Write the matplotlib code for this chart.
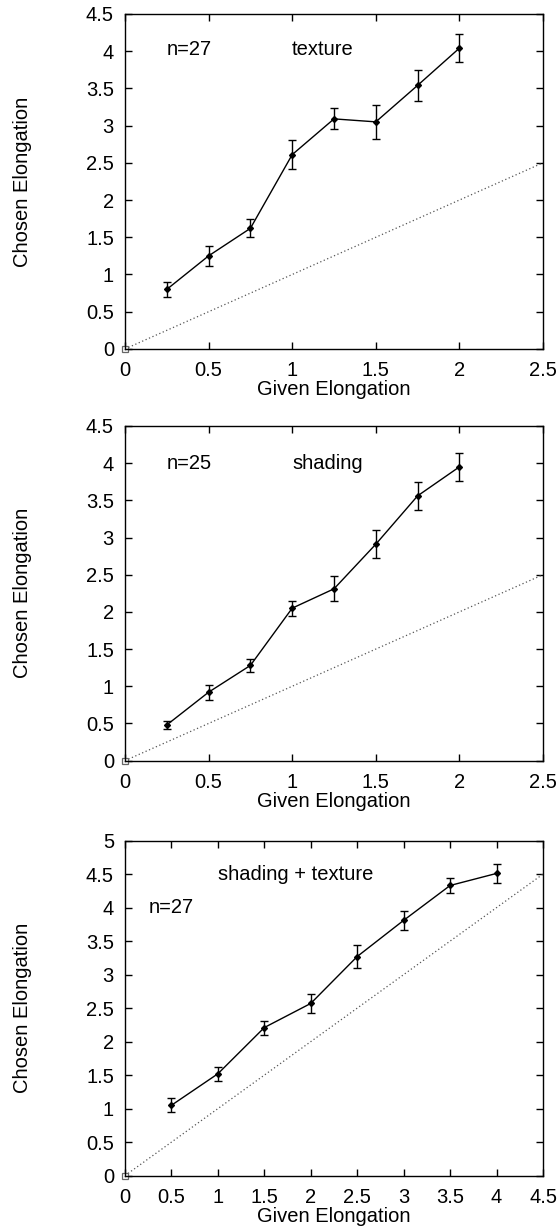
import numpy as np
import matplotlib.pyplot as plt

plt.rcParams['font.family'] = ['Liberation Sans', 'DejaVu Sans']

# panel 1: texture
x_tex = [0.25, 0.5, 0.75, 1.0, 1.25, 1.5, 1.75, 2.0]
y_tex = [0.80, 1.25, 1.62, 2.61, 3.09, 3.05, 3.54, 4.04]
e_tex = [0.10, 0.13, 0.12, 0.19, 0.14, 0.23, 0.21, 0.19]

# panel 2: shading
x_sha = [0.25, 0.5, 0.75, 1.0, 1.25, 1.5, 1.75, 2.0]
y_sha = [0.48, 0.92, 1.28, 2.05, 2.31, 2.91, 3.56, 3.95]
e_sha = [0.055, 0.10, 0.085, 0.10, 0.17, 0.19, 0.19, 0.19]

# panel 3: shading + texture
x_both = [0.5, 1.0, 1.5, 2.0, 2.5, 3.0, 3.5, 4.0]
y_both = [1.05, 1.52, 2.21, 2.57, 3.27, 3.81, 4.33, 4.51]
e_both = [0.105, 0.105, 0.105, 0.145, 0.17, 0.145, 0.115, 0.14]

panels = [
    dict(x=x_tex, y=y_tex, e=e_tex, xmax=2.5, ymax=4.5, label='texture', n='n=27',
         label_pos=(1.0, 4.02), n_pos=(0.25, 4.02),
         rect=[0.2244, 0.7163, 0.7505, 0.2724]),
    dict(x=x_sha, y=y_sha, e=e_sha, xmax=2.5, ymax=4.5, label='shading', n='n=25',
         label_pos=(1.0, 4.0), n_pos=(0.25, 4.0),
         rect=[0.2244, 0.3816, 0.7505, 0.2721]),
    dict(x=x_both, y=y_both, e=e_both, xmax=4.5, ymax=5.0, label='shading + texture', n='n=27',
         label_pos=(1.0, 4.5), n_pos=(0.26, 4.0),
         rect=[0.2244, 0.0442, 0.7505, 0.2724]),
]

fig = plt.figure(figsize=(5.57, 12.3), dpi=100)
fs = 14.5

for p in panels:
    ax = fig.add_axes(p['rect'])
    # reference line y = x
    ax.plot([0, p['xmax']], [0, p['xmax']], ls=(0, (1, 2)), color='#555555', lw=0.9)
    ax.plot([0], [0], marker='s', ms=5, mfc='white', mec='#666666', mew=0.9, clip_on=False)
    ax.errorbar(p['x'], p['y'], yerr=p['e'], color='black', lw=1.0, elinewidth=1.0,
                capsize=3, capthick=1.0, marker='D', ms=3)
    ax.text(p['n_pos'][0], p['n_pos'][1], p['n'], fontsize=fs, va='center', ha='left')
    ax.text(p['label_pos'][0], p['label_pos'][1], p['label'], fontsize=fs, va='center', ha='left')
    ax.set_xlim(0, p['xmax'])
    ax.set_ylim(0, p['ymax'])
    ax.set_xticks(np.arange(0, p['xmax'] + 0.01, 0.5))
    ax.set_yticks(np.arange(0, p['ymax'] + 0.01, 0.5))
    ax.xaxis.set_major_formatter(plt.FuncFormatter(lambda v, _: f'{v:g}'))
    ax.yaxis.set_major_formatter(plt.FuncFormatter(lambda v, _: f'{v:g}'))
    ax.tick_params(direction='in', length=5, width=1, top=True, right=True,
                   labelsize=fs)
    ax.tick_params(axis='y', pad=8)
    ax.tick_params(axis='x', pad=9)
    for s in ax.spines.values():
        s.set_linewidth(1.0)
    ax.set_xlabel('Given Elongation', fontsize=fs, labelpad=0)
    ax.set_ylabel('Chosen Elongation', fontsize=fs)
    ax.yaxis.set_label_coords(-0.222, 0.5)

fig.savefig('out.png', dpi=100)
